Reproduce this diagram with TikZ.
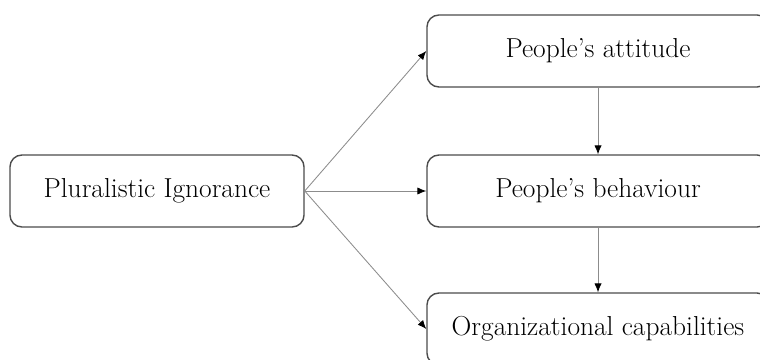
\documentclass[tikz,border=0pt]{standalone}
\usetikzlibrary{arrows.meta}
\begin{document}
\begin{tikzpicture}[x=0.025cm, y=-0.025cm,
  box/.style={draw=black!70, line width=1pt, rounded corners=0.3cm, fill=white,
    minimum height=1.8cm, inner sep=0pt, font=\fontsize{19.5}{23}\selectfont},
  link/.style={draw=black!45, line width=0.6pt, -{Latex[length=2.2mm,width=1.8mm,color=black]}}]
\useasboundingbox[fill=white] (0,0) rectangle (760,360);
\node[box, minimum width=7.35cm] (pig) at (157,191){Pluralistic Ignorance};
\node[box, minimum width=8.55cm] (att) at (598,51){People's attitude};
\node[box, minimum width=8.55cm] (beh) at (598,191){People's behaviour};
\node[box, minimum width=8.55cm] (org) at (598,329){Organizational capabilities};
\draw[link](pig.east) -- (att.west);
\draw[link](pig.east) -- (beh.west);
\draw[link](pig.east) -- (org.west);
\draw[link](att) -- (beh);
\draw[link](beh) -- (org);
\end{tikzpicture}
\end{document}
